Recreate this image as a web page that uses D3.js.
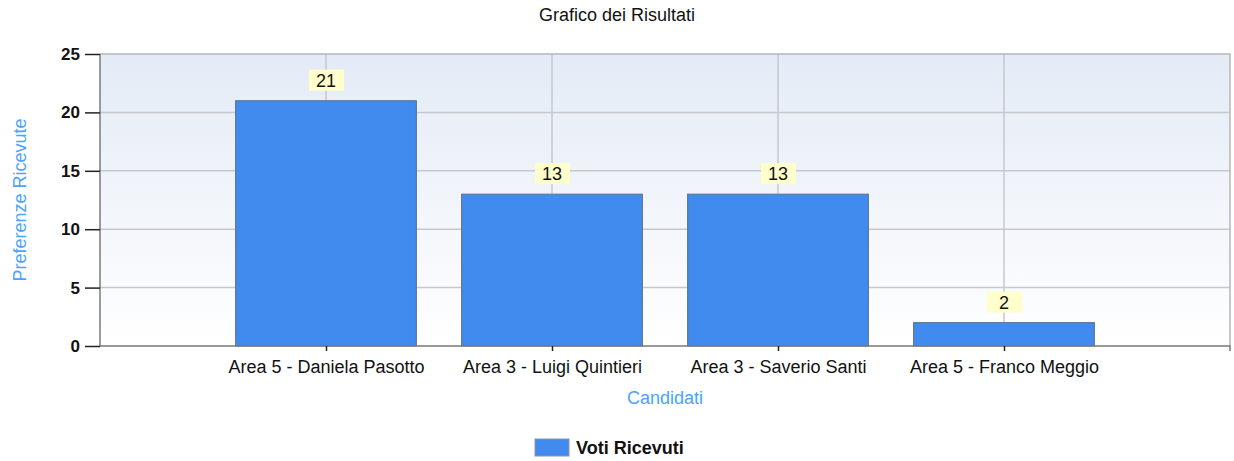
<!DOCTYPE html>
<html>
<head>
<meta charset="utf-8">
<script src="https://cdn.jsdelivr.net/npm/d3@7"></script>
<style>
  html, body { margin: 0; padding: 0; background: #fff; }
  svg { display: block; font-family: "Liberation Sans", Arial, sans-serif; }
</style>
</head>
<body>
<svg id="chart" width="1234" height="461"></svg>
<script>
// chart data
const categories = ['Area 5 - Daniela Pasotto', 'Area 3 - Luigi Quintieri', 'Area 3 - Saverio Santi', 'Area 5 - Franco Meggio'];
const values = [21, 13, 13, 2];
const yTicks = [0, 5, 10, 15, 20, 25];
const seriesName = 'Voti Ricevuti';
const chartTitle = 'Grafico dei Risultati';
const xTitle = 'Candidati';
const yTitle = 'Preferenze Ricevute';

const width = 1234, height = 461;
const margin = { top: 54, right: 4, bottom: 115, left: 100 };
const x0 = margin.left, x1 = width - margin.right;
const y0 = height - margin.bottom, y1 = margin.top;

const svg = d3.select('#chart');

// background gradient of the plot area
const defs = svg.append('defs');
const grad = defs.append('linearGradient')
  .attr('id', 'bg').attr('x1', 0).attr('y1', 0).attr('x2', 0).attr('y2', 1);
grad.append('stop').attr('offset', '0%').attr('stop-color', '#e4ebf6');
grad.append('stop').attr('offset', '100%').attr('stop-color', '#ffffff');

const x = d3.scalePoint().domain(categories).range([x0, x1]).padding(1);
const y = d3.scaleLinear().domain([0, 25]).range([y0, y1]);
const barW = x.step() * 0.8;

svg.append('rect')
  .attr('x', x0).attr('y', y1)
  .attr('width', x1 - x0).attr('height', y0 - y1)
  .attr('fill', 'url(#bg)');

// grid
const grid = svg.append('g').attr('stroke', '#c6c8cc').attr('stroke-width', 1.5);
grid.selectAll('line.h')
  .data(yTicks.filter(d => d > 0 && d < 25))
  .join('line')
  .attr('class', 'h')
  .attr('x1', x0).attr('x2', x1)
  .attr('y1', d => y(d)).attr('y2', d => y(d));
grid.selectAll('line.v')
  .data(categories)
  .join('line')
  .attr('class', 'v')
  .attr('x1', d => x(d)).attr('x2', d => x(d))
  .attr('y1', y1).attr('y2', y0);

// top and right border
svg.append('path')
  .attr('d', `M${x0},${y1}H${x1}V${y0}`)
  .attr('fill', 'none')
  .attr('stroke', '#b4b6ba')
  .attr('stroke-width', 1.5);

// bars
svg.append('g')
  .selectAll('rect')
  .data(values)
  .join('rect')
  .attr('x', (d, i) => x(categories[i]) - barW / 2)
  .attr('y', d => y(d))
  .attr('width', barW)
  .attr('height', d => y0 - y(d))
  .attr('fill', '#418aee')
  .attr('stroke', '#5e7189')
  .attr('stroke-width', 1);

// value labels
const lab = svg.append('g')
  .selectAll('g')
  .data(values)
  .join('g')
  .attr('transform', (d, i) => `translate(${x(categories[i])},${y(d) - 10})`);
lab.append('rect')
  .attr('x', -17).attr('y', -21)
  .attr('width', 35).attr('height', 21)
  .attr('fill', '#ffffcc');
lab.append('text')
  .attr('y', -4)
  .attr('text-anchor', 'middle')
  .attr('font-size', 18)
  .attr('fill', '#111')
  .text(d => d);

// y axis
const yAxis = svg.append('g')
  .attr('transform', `translate(${x0},0)`)
  .call(d3.axisLeft(y).tickValues(yTicks).tickSize(15).tickPadding(5));
yAxis.select('.domain').attr('stroke', '#7a7a7a').attr('stroke-width', 1.5)
  .attr('d', `M0,${y1}V${y0}`);
yAxis.selectAll('.tick line').attr('stroke', '#222').attr('stroke-width', 1.5);
yAxis.selectAll('.tick text')
  .attr('font-family', '"Liberation Sans", Arial, sans-serif')
  .attr('font-size', 17).attr('font-weight', 'bold').attr('fill', '#111');

// x axis
const xAxis = svg.append('g')
  .attr('transform', `translate(0,${y0})`)
  .call(d3.axisBottom(x).tickSize(5).tickPadding(9));
xAxis.select('.domain').attr('stroke', '#7a7a7a').attr('stroke-width', 1.5)
  .attr('d', `M${x0},0H${x1}V5`);
xAxis.selectAll('.tick line').attr('stroke', '#222').attr('stroke-width', 1.5);
xAxis.selectAll('.tick text')
  .attr('font-family', '"Liberation Sans", Arial, sans-serif')
  .attr('font-size', 18).attr('fill', '#111');

// titles
svg.append('text')
  .attr('x', (x0 + x1) / 2 - 48).attr('y', 21)
  .attr('text-anchor', 'middle')
  .attr('font-size', 18).attr('fill', '#111')
  .text(chartTitle);

svg.append('text')
  .attr('x', (x0 + x1) / 2).attr('y', 404)
  .attr('text-anchor', 'middle')
  .attr('font-size', 18).attr('fill', '#4aa3ff')
  .text(xTitle);

svg.append('text')
  .attr('transform', `translate(26,${(y0 + y1) / 2}) rotate(-90)`)
  .attr('text-anchor', 'middle')
  .attr('font-size', 18).attr('fill', '#4aa3ff')
  .text(yTitle);

// legend
const legend = svg.append('g').attr('transform', 'translate(535,439)');
legend.append('rect')
  .attr('width', 34).attr('height', 17)
  .attr('fill', '#418aee')
  .attr('stroke', '#8a96a6');
legend.append('text')
  .attr('x', 41).attr('y', 15)
  .attr('font-size', 18).attr('font-weight', 'bold').attr('fill', '#111')
  .text(seriesName);
</script>
</body>
</html>
